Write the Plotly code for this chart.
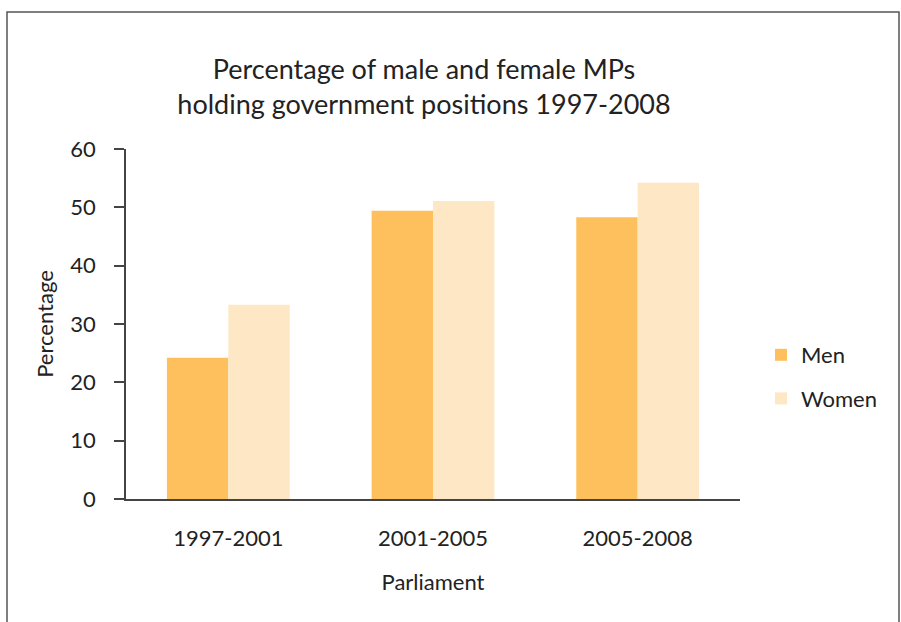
import plotly.graph_objects as go

categories = ["1997-2001", "2001-2005", "2005-2008"]
men = [24.2, 49.4, 48.3]
women = [33.3, 51.1, 54.2]
y_ticks = [0, 10, 20, 30, 40, 50, 60]

FONT = "Lato"
TXT = "#222222"

fig = go.Figure()
fig.add_trace(go.Bar(x=categories, y=men, name="Men", marker=dict(color="#FDC05C", line=dict(width=0)),
                     legendgroup="m"))
fig.add_trace(go.Bar(x=categories, y=women, name="Women", marker=dict(color="#FEE7C5", line=dict(width=0)),
                     legendgroup="w"))

L, R, T, B = 126, 740, 149, 499
W, H = 901, 622
pw, ph = R - L, B - T

def px(x):
    return (x - L) / pw

def py(y):
    return (B - y) / ph

fig.add_shape(type="rect", xref="paper", yref="paper",
              x0=px(7), x1=px(899), y0=py(640), y1=py(12),
              line=dict(color="#555555", width=1.5), fillcolor="rgba(0,0,0,0)", layer="below")

fig.update_layout(
    width=W, height=H,
    margin=dict(l=L, r=W - R, t=T, b=H - B, pad=0),
    paper_bgcolor="white", plot_bgcolor="white",
    barmode="group", bargap=0.4, bargroupgap=0,
    font=dict(family=FONT, color=TXT, size=21),
    title=dict(text="Percentage of male and female MPs<br>holding government positions 1997-2008",
               xref="container", yref="container",
               x=424 / W, xanchor="center", y=1 - 79 / H, yanchor="middle",
               font=dict(size=27, family=FONT, color=TXT)),
    showlegend=True,
    legend=dict(x=px(761), xanchor="left", y=py(334), yanchor="top",
                font=dict(size=22, family=FONT, color=TXT),
                traceorder="grouped", tracegroupgap=12, bgcolor="rgba(0,0,0,0)"),
    xaxis=dict(showline=True, linecolor="#444444", linewidth=1.5, ticks="", showgrid=False,
               tickfont=dict(size=22), ticklabelstandoff=19,
               title=dict(text="Parliament", font=dict(size=22), standoff=24)),
    yaxis=dict(range=[0, 60], tickvals=y_ticks, showline=True, linecolor="#444444", linewidth=1.5,
               ticks="outside", ticklen=10, tickcolor="#444444", tickwidth=1.5, showgrid=False,
               zeroline=False, tickfont=dict(size=22), ticklabelstandoff=14,
               title=dict(text="Percentage", font=dict(size=22), standoff=11)),
)

fig.write_html("out.html")
